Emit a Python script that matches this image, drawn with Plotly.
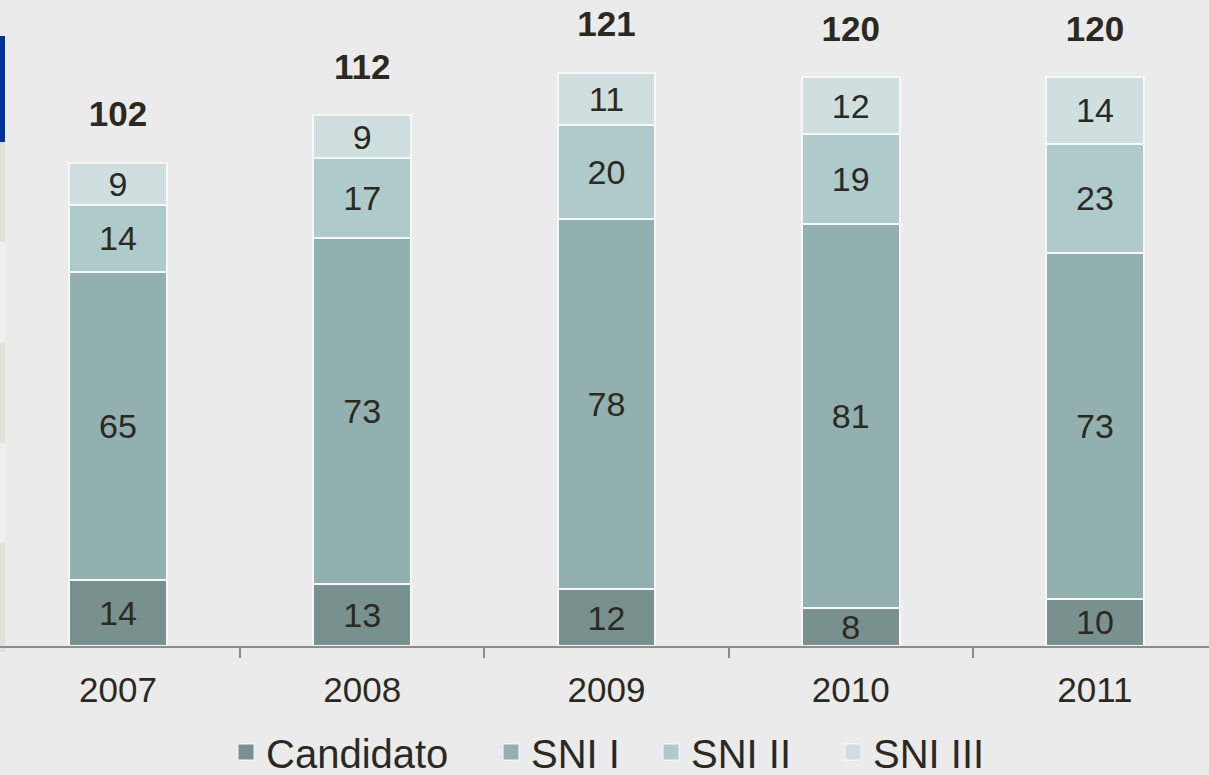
import plotly.graph_objects as go

years = ["2007", "2008", "2009", "2010", "2011"]
candidato = [14, 13, 12, 8, 10]
sni_1 = [65, 73, 78, 81, 73]
sni_2 = [14, 17, 20, 19, 23]
sni_3 = [9, 9, 11, 12, 14]
totals = [102, 112, 121, 120, 120]

series = [
    ("Candidato", candidato, "#78918f"),
    ("SNI I", sni_1, "#91b0af"),
    ("SNI II", sni_2, "#afcacb"),
    ("SNI III", sni_3, "#cfdfe0"),
]

W, H = 1209, 775
PLOT_H = 646
Y_MAX = 136.3
PX_PER_UNIT = PLOT_H / Y_MAX
BG = "#ebebeb"
TXT = "#2b2922"
FONT = "Liberation Sans, Arial, sans-serif"

fig = go.Figure()
legend_names = ["legend", "legend2", "legend3", "legend4"]
for (name, vals, col), lg in zip(series, legend_names):
    fig.add_trace(go.Bar(
        x=years, y=vals, name=name, legendgroup=name, showlegend=False,
        marker=dict(color=col, line=dict(color="#f7f7f7", width=2)),
        width=0.4,
        text=vals, texttemplate="%{text}",
        textposition="inside", insidetextanchor="middle",
        constraintext="none", textangle=0,
        textfont=dict(family=FONT, size=34, color=TXT),
        hoverinfo="skip",
    ))

# legend entries (square swatches), linked to the bar traces
for (name, vals, col), lg in zip(series, legend_names):
    fig.add_trace(go.Scatter(
        x=[years[0]], y=[None], mode="markers", name=name, legendgroup=name,
        legend=lg, showlegend=True,
        marker=dict(symbol="square", size=18, color=col,
                    line=dict(color="#f7f7f7", width=1)),
        hoverinfo="skip",
    ))

# totals above the stacks (label centre ~45px above the bar top)
label_offset = 45 / PX_PER_UNIT
fig.add_trace(go.Scatter(
    x=years, y=[t + label_offset for t in totals], mode="text",
    text=[f"<b>{t}</b>" for t in totals], textposition="middle center",
    textfont=dict(family=FONT, size=35, color=TXT),
    showlegend=False, hoverinfo="skip", cliponaxis=False,
))

# left decorative strip
shapes = []
strip = [(36, 142, "#003399"), (142, 242, "#e2e2da"), (242, 343, "#f0efeb"),
         (343, 443, "#e2e2da"), (443, 543, "#f0efeb"), (543, 652, "#e2e2da")]
for y0, y1, c in strip:
    shapes.append(dict(type="rect", xref="paper", yref="paper",
                       x0=0, x1=5 / W, y0=(PLOT_H - y1) / PLOT_H, y1=(PLOT_H - y0) / PLOT_H,
                       fillcolor=c, line=dict(width=0), layer="below"))

# legends positioned individually
text_starts = [268, 533, 693, 875]
layout_legends = {}
for lg, ts in zip(legend_names, text_starts):
    layout_legends[lg] = dict(
        orientation="h", xref="container", yref="container",
        x=(ts - 42) / W, xanchor="left", y=(H - 752) / H, yanchor="middle",
        font=dict(family=FONT, size=40, color=TXT),
        bgcolor="rgba(0,0,0,0)", borderwidth=0, itemsizing="trace",
    )

fig.update_layout(
    width=W, height=H,
    barmode="stack", bargap=0.6,
    paper_bgcolor=BG, plot_bgcolor=BG,
    margin=dict(l=0, r=0, t=0, b=H - PLOT_H),
    showlegend=True,
    shapes=shapes,
    xaxis=dict(
        type="category", range=[-0.483, 4.467],
        showline=True, linecolor="#8c8c8c", linewidth=2,
        ticks="outside", tickson="boundaries", ticklen=10, tickwidth=2,
        tickcolor="#8c8c8c", ticklabelstandoff=12,
        tickfont=dict(family=FONT, size=35, color=TXT),
        showgrid=False, zeroline=False,
    ),
    yaxis=dict(range=[0, Y_MAX], visible=False, showgrid=False, zeroline=False),
    **layout_legends,
)

fig.write_html("out.html", config={"displayModeBar": False},
               post_script="document.body.style.margin='0';")
